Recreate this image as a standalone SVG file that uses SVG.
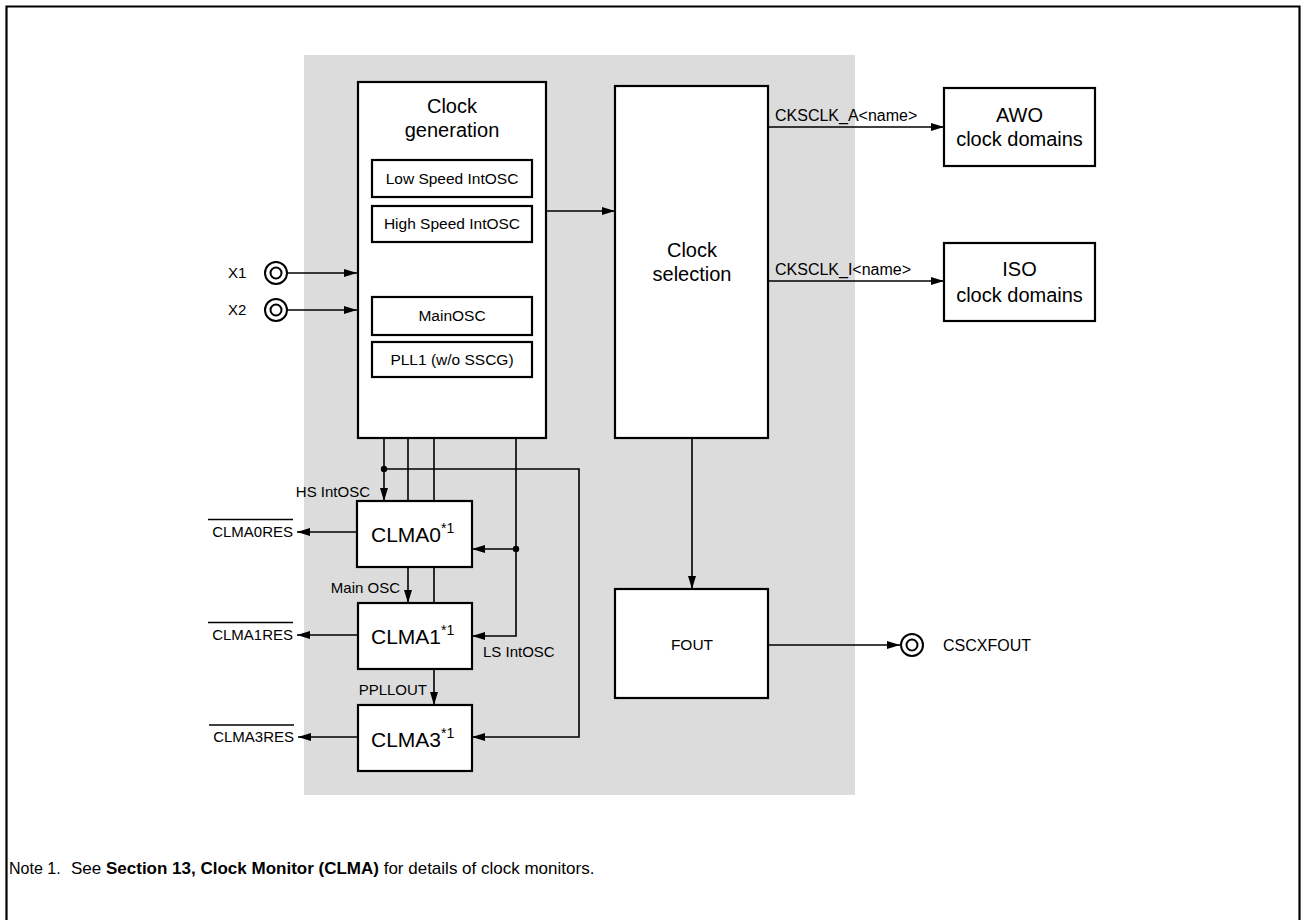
<svg xmlns="http://www.w3.org/2000/svg" width="1301" height="920" viewBox="0 0 1301 920">
<style>
text{font-family:"Liberation Sans",Arial,sans-serif;fill:#000}
.box{fill:#fff;stroke:#000;stroke-width:2.2}
.w{fill:none;stroke:#000;stroke-width:1.6}
.t20{font-size:20px;text-anchor:middle}
.t16{font-size:15.5px;text-anchor:middle}
.l15{font-size:15px}
.l16{font-size:16px}
.end{text-anchor:end}
.pin{fill:#fff;stroke:#000;stroke-width:2}
</style>
<defs>
<marker id="a" markerUnits="userSpaceOnUse" markerWidth="14" markerHeight="10" refX="13" refY="4" orient="auto" viewBox="0 0 14 8">
<path d="M0,0 L13,4 L0,8 z" fill="#000"/>
</marker>
</defs>
<path d="M6.5,920 V6.5 H1299.5 V920" fill="none" stroke="#000" stroke-width="2.2"/>
<rect x="304" y="55" width="551" height="740" fill="#dcdcdc"/>

<g id="clock-generation">
<rect class="box" x="358" y="82" width="188" height="356"/>
<text class="t20" x="452" y="113">Clock</text>
<text class="t20" x="452" y="137">generation</text>
</g>
<g id="low-speed-intosc"><rect class="box" x="372" y="160" width="160" height="37"/><text class="t16" x="452" y="184">Low Speed IntOSC</text></g>
<g id="high-speed-intosc"><rect class="box" x="372" y="206" width="160" height="36"/><text class="t16" x="452" y="229">High Speed IntOSC</text></g>
<g id="mainosc"><rect class="box" x="372" y="297" width="160" height="38"/><text class="t16" x="452" y="321">MainOSC</text></g>
<g id="pll1"><rect class="box" x="372" y="342" width="160" height="35"/><text class="t16" x="452" y="365">PLL1 (w/o SSCG)</text></g>

<g id="clock-selection">
<rect class="box" x="615" y="86" width="153" height="352"/>
<text class="t20" x="692" y="257">Clock</text>
<text class="t20" x="692" y="281">selection</text>
</g>
<g id="awo">
<rect class="box" x="944" y="88" width="151" height="78"/>
<text class="t20" x="1019.5" y="122" font-size="21">AWO</text>
<text class="t20" x="1019.5" y="146" font-size="21">clock domains</text>
</g>
<g id="iso">
<rect class="box" x="944" y="243" width="151" height="78"/>
<text class="t20" x="1019.5" y="276" font-size="21">ISO</text>
<text class="t20" x="1019.5" y="302" font-size="21">clock domains</text>
</g>
<g id="fout">
<rect class="box" x="615" y="589" width="153" height="109"/>
<text class="t16" x="692" y="650">FOUT</text>
</g>
<g id="clma0">
<rect class="box" x="357" y="501" width="115" height="66"/>
<text x="371" y="542" font-size="21">CLMA0<tspan font-size="14" dy="-9">*1</tspan></text>
</g>
<g id="clma1">
<rect class="box" x="358" y="603" width="114" height="66"/>
<text x="371" y="644" font-size="21">CLMA1<tspan font-size="14" dy="-9">*1</tspan></text>
</g>
<g id="clma3">
<rect class="box" x="358" y="705" width="114" height="66"/>
<text x="371" y="747" font-size="21">CLMA3<tspan font-size="14" dy="-9">*1</tspan></text>
</g>

<g id="pin-x1"><circle class="pin" cx="276" cy="273" r="11"/><circle class="pin" cx="276" cy="273" r="5.5"/><text class="l15" x="228" y="278">X1</text></g>
<g id="pin-x2"><circle class="pin" cx="276" cy="310" r="11"/><circle class="pin" cx="276" cy="310" r="5.5"/><text class="l15" x="228" y="315">X2</text></g>
<g id="pin-cscxfout"><circle class="pin" cx="912" cy="645" r="11"/><circle class="pin" cx="912" cy="645" r="5.5"/><text class="l16" x="943" y="651">CSCXFOUT</text></g>

<g id="connectors">
<path class="w" d="M288,273 H357" marker-end="url(#a)"/>
<path class="w" d="M288,310 H357" marker-end="url(#a)"/>
<path class="w" d="M546,211 H615" marker-end="url(#a)"/>
<path class="w" d="M768,127 H944" marker-end="url(#a)"/>
<path class="w" d="M768,281 H944" marker-end="url(#a)"/>
<path class="w" d="M692,438 V589" marker-end="url(#a)"/>
<path class="w" d="M768,645 H900" marker-end="url(#a)"/>
<path class="w" d="M384,438 V501" marker-end="url(#a)"/>
<path class="w" d="M384,469 H579 V737 H472" marker-end="url(#a)"/>
<circle cx="384" cy="469" r="3.2"/>
<path class="w" d="M408,438 V501"/>
<path class="w" d="M408,567 V603" marker-end="url(#a)"/>
<path class="w" d="M434,438 V501 M434,567 V603"/>
<path class="w" d="M434,669 V705" marker-end="url(#a)"/>
<path class="w" d="M516,438 V636 H472" marker-end="url(#a)"/>
<path class="w" d="M516,549 H472" marker-end="url(#a)"/>
<circle cx="516" cy="549" r="3.2"/>
<path class="w" d="M357,532 H297" marker-end="url(#a)"/>
<path class="w" d="M358,635 H297" marker-end="url(#a)"/>
<path class="w" d="M358,737 H298" marker-end="url(#a)"/>
<text class="l16" x="775" y="121">CKSCLK_A&lt;name&gt;</text>
<text class="l16" x="775" y="275">CKSCLK_I&lt;name&gt;</text>
<text class="l15 end" x="370" y="497">HS IntOSC</text>
<text class="l15 end" x="400" y="593">Main OSC</text>
<text class="l15" x="483" y="657">LS IntOSC</text>
<text class="l15 end" x="427" y="695">PPLLOUT</text>
<text class="l15 end" x="293" y="537">CLMA0RES</text>
<path class="w" d="M208,519.5 H293"/>
<text class="l15 end" x="293" y="640">CLMA1RES</text>
<path class="w" d="M208,622.5 H293"/>
<text class="l15 end" x="294" y="742">CLMA3RES</text>
<path class="w" d="M209,725 H294"/>
</g>

<text x="9" y="874" font-size="16">Note 1.</text>
<text x="71" y="874" font-size="17">See <tspan font-weight="bold">Section 13, Clock Monitor (CLMA)</tspan> for details of clock monitors.</text>
</svg>
